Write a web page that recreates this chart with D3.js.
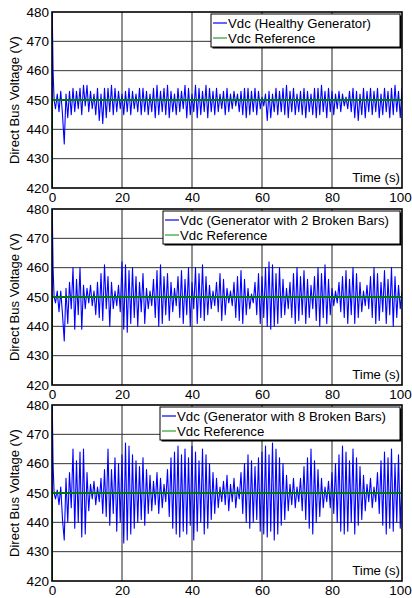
<!DOCTYPE html>
<html>
<head>
<meta charset="utf-8">
<script src="https://cdn.jsdelivr.net/npm/d3@7"></script>
<style>
html,body{margin:0;padding:0;background:#fff;}
svg{display:block;}
text{font-family:"Liberation Sans",Arial,sans-serif;fill:#000;}
</style>
</head>
<body>
<svg id="c" width="412" height="598"></svg>
<script>
// ---- data ----
const xTicks = [0, 20, 40, 60, 80, 100];
const yTicks = [420, 430, 440, 450, 460, 470, 480];
const legendNames = ["Vdc (Healthy Generator)", "Vdc (Generator with 2 Broken Bars)", "Vdc (Generator with 8 Broken Bars)"];
const refName = "Vdc Reference";
const refT = [0, 0, 100];
const refV = [0, 450, 450];
// start-up transient
const startT = [0, 0.05, 0.3, 0.6];
const startV = [0, 482, 460, 450];
// sampled values from t = 1 s to 100 s, every 0.5 s
const gridStart = 1, gridStep = 0.5;
const healthy = [
447,452,446,453,445,435,452,444,453,445,
454,446,453,447,454,445,455,448,455,446,
453,447,452,445,454,443,452,442,454,444,
454,446,455,445,454,446,453,447,452,445,
453,446,454,445,453,447,452,446,454,445,
454,446,453,445,452,446,454,444,455,445,
453,446,454,445,455,444,453,446,452,445,
454,446,453,447,455,444,454,445,452,446,
455,444,454,445,453,446,455,444,454,446,
453,445,454,446,452,447,453,445,454,446,
452,447,453,448,452,446,453,445,454,444,
454,445,453,446,454,445,453,447,451,448,
452,443,453,444,452,446,454,445,453,446,
454,445,455,444,453,446,454,445,452,446,
453,445,454,444,453,446,452,445,454,444,
454,445,455,446,453,444,454,446,453,445,
452,447,453,446,452,448,451,447,453,446,
454,444,453,443,452,445,454,444,453,446,
454,445,453,446,454,444,452,445,454,446,
453,444,454,445,455,446,453,444,454];
const broken2 = [
448,452,445,452,444,435,453,441,455,446,
460,439,456,444,460,439,454,446,453,448,
454,447,452,444,455,443,458,442,461,446,
457,440,455,446,452,447,454,445,462,439,
461,438,459,441,460,443,457,440,455,445,
458,441,453,446,452,447,456,443,459,440,
461,441,457,444,458,442,455,445,453,447,
457,443,459,441,456,444,460,440,455,446,
460,441,458,443,461,442,457,444,454,446,
452,447,455,445,458,442,456,444,453,448,
452,447,455,443,457,442,459,441,456,444,
453,446,451,448,455,444,458,441,457,443,
460,440,462,439,461,440,458,441,460,443,
456,444,453,446,455,443,458,441,460,442,
457,444,459,441,456,443,454,446,457,442,
460,440,458,443,461,441,456,444,453,447,
452,448,455,445,457,443,459,441,456,444,
460,441,458,443,455,445,452,447,454,446,
457,443,460,441,458,442,455,445,459,441,
456,444,460,440,457,443,454,446,452];
const broken8 = [
448,451,446,452,441,434,455,440,457,445,
465,438,461,440,464,435,465,436,457,444,
453,448,454,446,452,447,455,443,458,442,
465,439,458,443,462,437,460,440,463,433,
467,434,466,436,463,438,461,440,459,441,
462,439,458,443,456,444,454,446,457,443,
455,445,453,447,458,442,462,438,464,436,
466,435,463,437,465,436,462,439,466,434,
464,437,461,440,465,436,463,438,460,441,
457,443,455,445,452,447,454,446,456,444,
453,447,455,445,452,448,457,443,460,440,
463,438,461,440,459,441,462,437,464,436,
466,435,463,437,467,434,465,436,462,439,
460,441,456,444,453,446,455,445,452,447,
455,444,459,441,462,438,465,436,461,440,
458,442,455,445,452,447,454,445,457,443,
460,440,463,437,466,436,464,437,461,440,
465,436,462,439,459,441,456,444,453,447,
455,445,452,447,457,443,461,439,464,436,
462,438,465,437,460,440,463,438,458];
const seriesList = [healthy, broken2, broken8];

// ---- layout ----
const svg = d3.select("#c");
const left = 52, right = 402;
const panelTops = [12, 209, 405];
const panelH = 176;
const legendX = [211, 163, 160];
const legendW = [189, 237, 240];

const x = d3.scaleLinear().domain([0, 100]).range([left, right]);

panelTops.forEach((top, pi) => {
  const y = d3.scaleLinear().domain([420, 480]).range([top + panelH, top]);
  const g = svg.append("g");
  const clipId = "clip" + pi;
  svg.append("clipPath").attr("id", clipId).append("rect")
    .attr("x", left).attr("y", top).attr("width", right - left).attr("height", panelH);

  // grid
  g.append("g").selectAll("line").data(xTicks.slice(1, -1)).join("line")
    .attr("x1", d => x(d)).attr("x2", d => x(d)).attr("y1", top).attr("y2", top + panelH)
    .attr("stroke", "#222").attr("stroke-width", 1);
  g.append("g").selectAll("line").data(yTicks.slice(1, -1)).join("line")
    .attr("x1", left).attr("x2", right).attr("y1", d => y(d)).attr("y2", d => y(d))
    .attr("stroke", "#333").attr("stroke-width", 1);

  // data
  const vals = seriesList[pi];
  const pts = startT.map((t, i) => [t, startV[i]])
    .concat(vals.map((v, i) => [gridStart + i * gridStep, v]));
  const line = d3.line().x(d => x(d[0])).y(d => y(d[1]));
  g.append("path").datum(pts).attr("d", line).attr("clip-path", `url(#${clipId})`)
    .attr("fill", "none").attr("stroke", "#0000ff").attr("stroke-width", 1.1)
    .attr("stroke-linejoin", "round");
  g.append("path").datum(refT.map((t, i) => [t, refV[i]])).attr("d", line)
    .attr("clip-path", `url(#${clipId})`)
    .attr("fill", "none").attr("stroke", "#007a00").attr("stroke-width", 2);

  // frame
  g.append("rect").attr("x", left).attr("y", top).attr("width", right - left).attr("height", panelH)
    .attr("fill", "none").attr("stroke", "#000").attr("stroke-width", 1.6);

  // axes
  const ya = d3.axisLeft(y).tickValues(yTicks).tickSize(0).tickPadding(3);
  const yg = g.append("g").attr("transform", `translate(${left},0)`).call(ya);
  yg.select(".domain").remove();
  yg.selectAll("text").attr("font-size", 13.5).attr("font-family", "Liberation Sans, Arial, sans-serif");
  const xa = d3.axisBottom(x).tickValues(xTicks).tickSize(0).tickPadding(4);
  const xg = g.append("g").attr("transform", `translate(0,${top + panelH})`).call(xa);
  xg.select(".domain").remove();
  xg.selectAll("text").attr("font-size", 13.5).attr("font-family", "Liberation Sans, Arial, sans-serif")
    .attr("dx", d => d === 100 ? -2 : 0);

  // y label
  g.append("text").attr("transform", `translate(19,${top + panelH / 2}) rotate(-90)`)
    .attr("text-anchor", "middle").attr("font-size", 13).text("Direct Bus Voltage (V)");

  // Time label
  g.append("text").attr("x", right - 2).attr("y", top + panelH - 6)
    .attr("text-anchor", "end").attr("font-size", 13.2).text("Time (s)");

  // legend
  const lx = legendX[pi], ly = top + 2, lw = legendW[pi], lh = 33;
  g.append("rect").attr("x", lx + 1.5).attr("y", ly + 1.5).attr("width", lw).attr("height", lh).attr("fill", "#000");
  g.append("rect").attr("x", lx).attr("y", ly).attr("width", lw).attr("height", lh)
    .attr("fill", "#fff").attr("stroke", "#000").attr("stroke-width", 1);
  const entries = [[legendNames[pi], "#0000ff"], [refName, "#2aa02a"]];
  entries.forEach((e, i) => {
    const cy = ly + 9 + i * 15;
    g.append("line").attr("x1", lx + 2).attr("x2", lx + 16).attr("y1", cy).attr("y2", cy)
      .attr("stroke", e[1]).attr("stroke-width", 1.2);
    g.append("text").attr("x", lx + 17).attr("y", cy + 4.5).attr("font-size", 13.2).text(e[0]);
  });
});
</script>
</body>
</html>
